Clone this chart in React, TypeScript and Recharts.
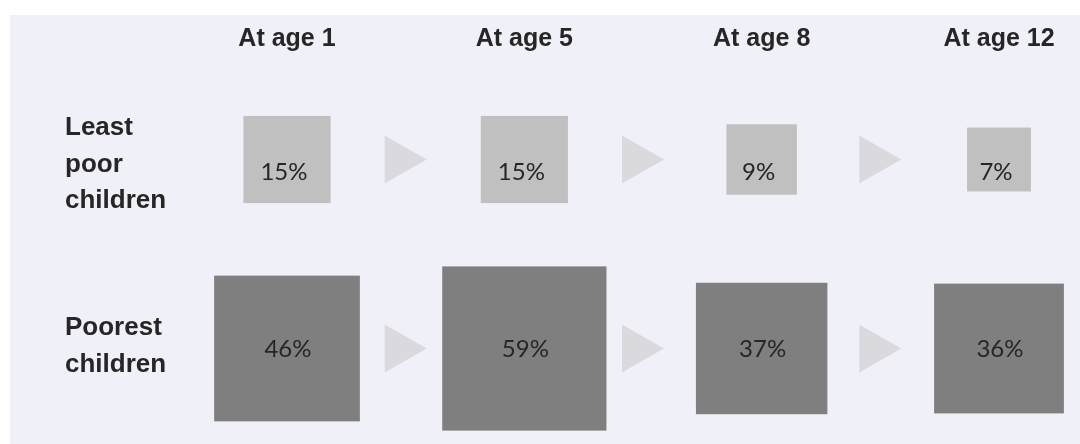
import { ScatterChart, Scatter, XAxis, YAxis, ZAxis } from "recharts";

const ages = ["At age 1", "At age 5", "At age 8", "At age 12"];
const groups = ["Least poor children", "Poorest children"];
const leastPoor = [15, 15, 9, 7];
const poorest = [46, 59, 37, 36];

const toPoints = (values: number[], row: number) =>
  values.map((value, i) => ({ x: i, y: row, value }));

// one arrow between each pair of neighbouring ages
const arrowPoints = (row: number) =>
  ages.slice(1).map((_, i) => ({ x: i + 0.5, y: row }));

const HEAD_FONT = "'Liberation Sans', Arial, sans-serif";
const VALUE_FONT = "Lato, 'Open Sans', sans-serif";
const PANEL = "#f0f0f8";

// vertical nudge of each row label block against its row centre
const groupLabelDy = [12, 5];

function Box(props: any) {
  const { cx, cy, size, payload, fill, dx = 0, dy = 0 } = props;
  const side = Math.sqrt(size);
  return (
    <g>
      <rect x={cx - side / 2} y={cy - side / 2} width={side} height={side} fill={fill} />
      <text
        x={cx + dx}
        y={cy + dy}
        textAnchor="middle"
        dominantBaseline="central"
        fontFamily={VALUE_FONT}
        fontSize={24}
        fill="#262626"
      >
        {payload.value}%
      </text>
    </g>
  );
}

function Arrow({ cx, cy }: any) {
  const w = 42;
  const h = 48;
  return (
    <polygon
      points={`${cx - w / 2},${cy - h / 2} ${cx + w / 2},${cy} ${cx - w / 2},${cy + h / 2}`}
      fill="#dadade"
    />
  );
}

function AgeTick({ x, payload }: any) {
  return (
    <text
      x={x}
      y={46}
      textAnchor="middle"
      fontFamily={HEAD_FONT}
      fontWeight="bold"
      fontSize={25}
      fill="#262626"
    >
      {ages[payload.value]}
    </text>
  );
}

function GroupTick({ y, payload }: any) {
  const lines = groups[payload.value].split(" ");
  const lh = 36.5;
  const first = y + groupLabelDy[payload.value] - ((lines.length - 1) / 2) * lh;
  return (
    <text fontFamily={HEAD_FONT} fontWeight="bold" fontSize={26} fill="#262626">
      {lines.map((line, k) => (
        <tspan key={k} x={65} y={first + k * lh}>
          {line}
        </tspan>
      ))}
    </text>
  );
}

export default function App() {
  return (
    <div style={{ position: "relative", width: 1080, height: 444 }}>
      <style>{`html, body { margin: 0; background: ${PANEL}; }`}</style>
      {/* white frame above and left of the panel */}
      <div style={{ position: "fixed", left: 0, top: 0, right: 0, height: 15, background: "#fff" }} />
      <div style={{ position: "fixed", left: 0, top: 0, bottom: 0, width: 10, background: "#fff" }} />
      <div style={{ position: "absolute", left: 0, top: 0 }}>
        <ScatterChart width={1080} height={444} margin={{ top: 0, right: 0, bottom: 0, left: 0 }}>
          <XAxis
            type="number"
            dataKey="x"
            orientation="top"
            height={60}
            domain={[-0.3666, 3.3413]}
            allowDataOverflow
            ticks={[0, 1, 2, 3]}
            interval={0}
            axisLine={false}
            tickLine={false}
            tick={<AgeTick />}
          />
          <YAxis
            type="number"
            dataKey="y"
            width={200}
            reversed
            domain={[-0.5265, 1.5053]}
            allowDataOverflow
            ticks={[0, 1]}
            interval={0}
            axisLine={false}
            tickLine={false}
            tick={<GroupTick />}
          />
          <ZAxis type="number" dataKey="value" domain={[0, 60]} range={[1000, 27400]} />
          <Scatter
            data={arrowPoints(0)}
            shape={(p: any) => <Arrow {...p} />}
            isAnimationActive={false}
          />
          <Scatter
            data={arrowPoints(1)}
            shape={(p: any) => <Arrow {...p} />}
            isAnimationActive={false}
          />
          <Scatter
            name={groups[0]}
            data={toPoints(leastPoor, 0)}
            shape={(p: any) => <Box {...p} fill="#c0c0c0" dx={-3} dy={11} />}
            isAnimationActive={false}
          />
          <Scatter
            name={groups[1]}
            data={toPoints(poorest, 1)}
            shape={(p: any) => <Box {...p} fill="#7f7f7f" dx={1} dy={-1} />}
            isAnimationActive={false}
          />
        </ScatterChart>
      </div>
    </div>
  );
}
